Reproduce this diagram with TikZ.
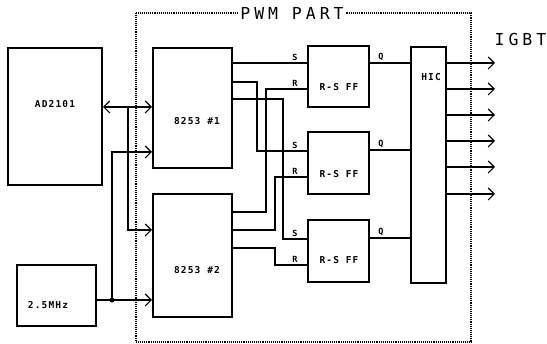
\documentclass[tikz,border=0pt]{standalone}
\usepackage{fontspec}
\newfontfamily\plotfont[LetterSpace=24]{DejaVu Sans Mono}
\newfontfamily\boxfont[LetterSpace=12]{DejaVu Sans Mono}
\usetikzlibrary{arrows.meta}
\tikzset{
  blk/.style={draw, line width=2pt, inner sep=0pt},
  wire/.style={line width=1.1pt},
  arr/.style={wire, -{Straight Barb[length=6pt,width=12pt]}},
  darr/.style={wire, {Straight Barb[length=6pt,width=12pt]}-{Straight Barb[length=6pt,width=12pt]}},
  lbl/.style={font=\boxfont\bfseries\fontsize{9.5}{10}\selectfont, inner sep=0pt},
  pinlbl/.style={font=\boxfont\bfseries\fontsize{8.5}{9}\selectfont, inner sep=0pt, anchor=south},
  ttl/.style={font=\plotfont\fontsize{16.5}{18}\selectfont, inner sep=2pt},
  dotbox/.style={line width=1.1pt, dash pattern=on 1pt off 0.9pt},
  jdot/.style={circle, fill, inner sep=0pt, minimum size=5pt}
}
\begin{document}
\begin{tikzpicture}[x=1pt,y=-1pt]
\useasboundingbox (0,0) rectangle (547,344);

% PWM PART dotted frame
\node[ttl] (pwm) at (292,13) {PWM PART};
\draw[dotbox] (pwm.west) -- (136,13) -- (136,342) -- (471,342) -- (471,13) -- (pwm.east);
\node[ttl, inner sep=0pt, anchor=east] (igbt) at (546.5,39) {IGBT};

% blocks
\node[blk, minimum width=94pt, minimum height=137pt] (ad) at (55,116.5) {};
\node[blk, minimum width=79pt, minimum height=120pt] (c1) at (192.5,108) {};
\node[blk, minimum width=79pt, minimum height=123pt] (c2) at (192.5,255.5) {};
\node[blk, minimum width=79pt, minimum height=61pt] (clk) at (56.5,295.5) {};
\node[blk, minimum width=61pt, minimum height=61pt] (ff1) at (338.5,76.5) {};
\node[blk, minimum width=61pt, minimum height=62pt] (ff2) at (338.5,163) {};
\node[blk, minimum width=61pt, minimum height=62pt] (ff3) at (338.5,251.5) {};
\node[blk, minimum width=35pt, minimum height=236pt] (hic) at (428.5,165) {};

% block labels
\node[lbl] (adt) at (55,104) {AD2101};
\node[lbl] (c1t) at (197,121) {8253 \#1};
\node[lbl] (c2t) at (197,270) {8253 \#2};
\node[lbl] (clkt) at (48,305) {2.5MHz};
\node[lbl] (ff1t) at (339,87) {R-S FF};
\node[lbl] (ff2t) at (339,174) {R-S FF};
\node[lbl] (ff3t) at (339,260) {R-S FF};
\node[lbl] (hict) at (431,77) {HIC};

% FF input points
\coordinate (s1) at (ff1.west |- 0,63);
\coordinate (r1) at (ff1.west |- 0,89);
\coordinate (s2) at (ff2.west |- 0,151);
\coordinate (r2) at (ff2.west |- 0,177);
\coordinate (s3) at (ff3.west |- 0,239);
\coordinate (r3) at (ff3.west |- 0,265);

% pin labels
\node[pinlbl] (s1t) at (295,61) {S};
\node[pinlbl] (r1t) at (295,87) {R};
\node[pinlbl] (s2t) at (295,149) {S};
\node[pinlbl] (r2t) at (295,175) {R};
\node[pinlbl] (s3t) at (295,237) {S};
\node[pinlbl] (r3t) at (295,263) {R};
\node[pinlbl] (q1t) at (381,61) {Q};
\node[pinlbl] (q2t) at (381,148) {Q};
\node[pinlbl] (q3t) at (381,236) {Q};

% inputs
\draw[darr] (ad.east |- 0,107) -- (c1.west |- 0,107);
\draw[arr] (128,107) |- (c2.west |- 0,230);
\node[jdot] (j) at (112,300) {};
\draw[arr] (clk.east |- 0,300) -- (c2.west |- 0,300);
\draw[arr] (j.center) |- (c1.west |- 0,152);

% 8253 #1 -> S inputs
\draw[wire] (c1.east |- s1) -- (s1);
\draw[wire] (c1.east |- 0,82) -| (257,151) -- (s2);
\draw[wire] (c1.east |- 0,99) -| (283,239) -- (s3);
% 8253 #2 -> R inputs
\draw[wire] (c2.east |- 0,212) -| (266,89) -- (r1);
\draw[wire] (c2.east |- 0,230) -| (275,177) -- (r2);
\draw[wire] (c2.east |- 0,248) -| (275,265) -- (r3);

% Q outputs
\draw[wire] (ff1.east |- s1) -- (hic.west |- s1);
\draw[wire] (ff2.east |- 0,150) -- (hic.west |- 0,150);
\draw[wire] (ff3.east |- 0,238) -- (hic.west |- 0,238);

% HIC outputs
\foreach \yy/\nm in {63/o1,89/o2,115/o3,141/o4,167/o5,194/o6}{
  \coordinate (\nm) at (495,\yy);
  \draw[arr] (hic.east |- \nm) -- (\nm);
}
\end{tikzpicture}
\end{document}
